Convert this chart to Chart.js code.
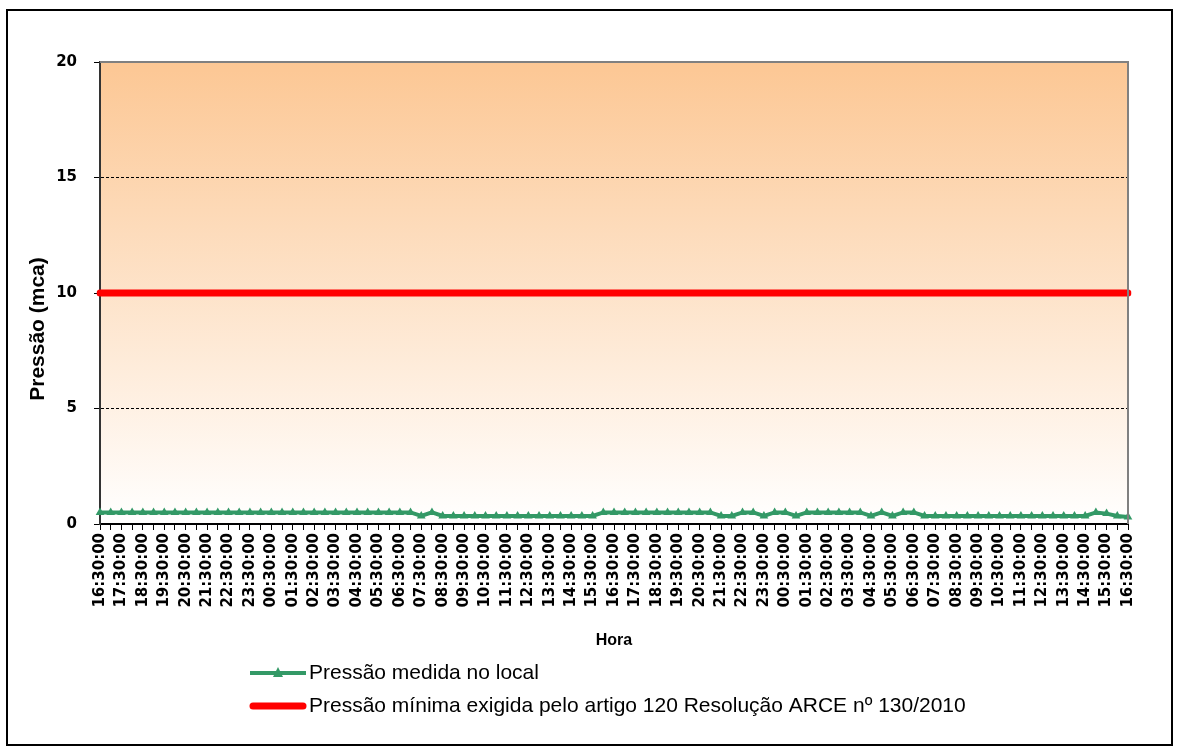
<!DOCTYPE html>
<html>
<head>
<meta charset="utf-8">
<script src="https://cdn.jsdelivr.net/npm/chart.js@4.4.0/dist/chart.umd.min.js"></script>
<style>
  html, body { margin: 0; padding: 0; background: #fff; }
  #wrap { width: 1181px; height: 753px; position: relative; }
</style>
</head>
<body>
<div id="wrap"><canvas id="chart" width="1181" height="753"></canvas></div>
<script>
// Horários (a cada 30 min)
const horas = [
  '16:30:00','17:00:00','17:30:00','18:00:00','18:30:00','19:00:00','19:30:00','20:00:00',
  '20:30:00','21:00:00','21:30:00','22:00:00','22:30:00','23:00:00','23:30:00','00:00:00',
  '00:30:00','01:00:00','01:30:00','02:00:00','02:30:00','03:00:00','03:30:00','04:00:00',
  '04:30:00','05:00:00','05:30:00','06:00:00','06:30:00','07:00:00','07:30:00','08:00:00',
  '08:30:00','09:00:00','09:30:00','10:00:00','10:30:00','11:00:00','11:30:00','12:00:00',
  '12:30:00','13:00:00','13:30:00','14:00:00','14:30:00','15:00:00','15:30:00','16:00:00',
  '16:30:00','17:00:00','17:30:00','18:00:00','18:30:00','19:00:00','19:30:00','20:00:00',
  '20:30:00','21:00:00','21:30:00','22:00:00','22:30:00','23:00:00','23:30:00','00:00:00',
  '00:30:00','01:00:00','01:30:00','02:00:00','02:30:00','03:00:00','03:30:00','04:00:00',
  '04:30:00','05:00:00','05:30:00','06:00:00','06:30:00','07:00:00','07:30:00','08:00:00',
  '08:30:00','09:00:00','09:30:00','10:00:00','10:30:00','11:00:00','11:30:00','12:00:00',
  '12:30:00','13:00:00','13:30:00','14:00:00','14:30:00','15:00:00','15:30:00','16:00:00',
  '16:30:00'
];

// Pressão medida no local (mca)
const pressaoMedida = [
  0.5, 0.5, 0.5, 0.5, 0.5, 0.5, 0.5, 0.5, 0.5, 0.5, 0.5, 0.5, 0.5, 0.5, 0.5, 0.5,
  0.5, 0.5, 0.5, 0.5, 0.5, 0.5, 0.5, 0.5, 0.5, 0.5, 0.5, 0.5, 0.5, 0.5, 0.35, 0.5,
  0.35, 0.35, 0.35, 0.35, 0.35, 0.35, 0.35, 0.35, 0.35, 0.35, 0.35, 0.35, 0.35, 0.35, 0.35, 0.5,
  0.5, 0.5, 0.5, 0.5, 0.5, 0.5, 0.5, 0.5, 0.5, 0.5, 0.35, 0.35, 0.5, 0.5, 0.35, 0.5,
  0.5, 0.35, 0.5, 0.5, 0.5, 0.5, 0.5, 0.5, 0.35, 0.5, 0.35, 0.5, 0.5, 0.35, 0.35, 0.35,
  0.35, 0.35, 0.35, 0.35, 0.35, 0.35, 0.35, 0.35, 0.35, 0.35, 0.35, 0.35, 0.35, 0.5, 0.45, 0.35,
  0.3
];

// Pressão mínima exigida (mca)
const pressaoMinima = horas.map(() => 10);

const yTicks = [0, 5, 10, 15, 20];
const gridValores = [5, 10, 15];

const tituloY = 'Pressão (mca)';
const nomeMedida = 'Pressão medida no local';
const nomeMinima = 'Pressão mínima exigida pelo artigo 120 Resolução ARCE nº 130/2010';

const VERDE = '#339966';
const VERMELHO = '#FF0000';

// Fundo em degradê da área de plotagem
const fundoPlugin = {
  id: 'fundo',
  beforeDatasetsDraw(chart) {
    const { ctx, chartArea: a } = chart;
    const g = ctx.createLinearGradient(0, a.top, 0, a.bottom);
    g.addColorStop(0, '#FCC794');
    g.addColorStop(1, '#FFFFFF');
    ctx.save();
    ctx.globalCompositeOperation = 'destination-over';
    ctx.fillStyle = g;
    ctx.fillRect(a.left, a.top, a.right - a.left, a.bottom - a.top);
    ctx.restore();
  }
};

// Bordas, moldura, título do eixo Y e legenda
const molduraPlugin = {
  id: 'moldura',
  afterDraw(chart) {
    const { ctx, chartArea: a } = chart;
    ctx.save();
    // topo e direita da área de plotagem
    ctx.strokeStyle = '#808080';
    ctx.lineWidth = 2;
    ctx.beginPath();
    ctx.moveTo(a.left, a.top);
    ctx.lineTo(a.right, a.top);
    ctx.lineTo(a.right, a.bottom);
    ctx.stroke();

    // moldura externa
    ctx.strokeStyle = '#000';
    ctx.lineWidth = 2;
    ctx.strokeRect(7, 10, 1165, 735);

    // título do eixo Y (Excel o deixa um pouco abaixo do centro)
    ctx.save();
    ctx.translate(38, 329);
    ctx.rotate(-Math.PI / 2);
    ctx.fillStyle = '#000';
    ctx.font = 'bold 21px "Liberation Sans", Arial, sans-serif';
    ctx.textAlign = 'center';
    ctx.textBaseline = 'middle';
    ctx.fillText(tituloY, 0, 0);
    ctx.restore();

    // legenda
    const x0 = 250, x1 = 306;
    const yA = 673, yB = 706;
    ctx.lineCap = 'butt';
    ctx.strokeStyle = VERDE;
    ctx.lineWidth = 4;
    ctx.beginPath();
    ctx.moveTo(x0, yA);
    ctx.lineTo(x1, yA);
    ctx.stroke();
    ctx.fillStyle = VERDE;
    ctx.beginPath();
    const cx = (x0 + x1) / 2;
    ctx.moveTo(cx, yA - 6);
    ctx.lineTo(cx + 5, yA + 4);
    ctx.lineTo(cx - 5, yA + 4);
    ctx.closePath();
    ctx.fill();

    ctx.lineCap = 'round';
    ctx.strokeStyle = VERMELHO;
    ctx.lineWidth = 7;
    ctx.beginPath();
    ctx.moveTo(x0 + 3, yB);
    ctx.lineTo(x1 - 3, yB);
    ctx.stroke();

    ctx.fillStyle = '#000';
    ctx.font = '21px "Liberation Sans", Arial, sans-serif';
    ctx.textBaseline = 'middle';
    ctx.textAlign = 'left';
    ctx.fillText(nomeMedida, x1 + 3, yA);
    ctx.fillText(nomeMinima, x1 + 3, yB);
    ctx.restore();
  }
};

new Chart(document.getElementById('chart'), {
  type: 'line',
  data: {
    labels: horas,
    datasets: [
      {
        label: nomeMinima,
        data: pressaoMinima,
        borderColor: VERMELHO,
        backgroundColor: VERMELHO,
        borderWidth: 7,
        borderCapStyle: 'round',
        pointRadius: 0,
        tension: 0,
        order: 2
      },
      {
        label: nomeMedida,
        data: pressaoMedida,
        borderColor: VERDE,
        backgroundColor: VERDE,
        borderWidth: 4,
        pointStyle: 'triangle',
        pointRadius: 5,
        pointBackgroundColor: VERDE,
        pointBorderColor: VERDE,
        pointBorderWidth: 0,
        tension: 0,
        order: 1
      }
    ]
  },
  options: {
    responsive: false,
    animation: false,
    devicePixelRatio: 1,
    layout: { padding: { left: 20, right: 53, top: 62, bottom: 99 } },
    plugins: {
      legend: { display: false },
      tooltip: { enabled: false }
    },
    scales: {
      x: {
        type: 'category',
        offset: false,
        afterFit: s => { s.height = 130; },
        grid: {
          drawOnChartArea: false,
          drawTicks: true,
          tickLength: 6,
          tickColor: '#000',
          tickWidth: 1
        },
        border: { color: '#000', width: 2 },
        ticks: {
          autoSkip: false,
          minRotation: 90,
          maxRotation: 90,
          padding: 3,
          color: '#000',
          font: { family: '"DejaVu Sans", sans-serif', size: 15, weight: 'bold' },
          callback: (v, i) => (i % 2 === 0 ? horas[i] : '')
        },
        title: {
          display: true,
          text: 'Hora',
          color: '#000',
          font: { family: '"Liberation Sans", Arial, sans-serif', size: 16, weight: 'bold' }
        }
      },
      y: {
        min: 0,
        max: 20,
        afterFit: s => { s.width = 80; },
        afterBuildTicks: s => { s.ticks = yTicks.map(v => ({ value: v })); },
        grid: {
          color: c => (gridValores.includes(c.tick.value) ? '#000' : 'rgba(0,0,0,0)'),
          lineWidth: 1,
          tickLength: 6,
          tickColor: '#000',
          tickBorderDash: []
        },
        border: { color: '#333', width: 2, dash: [3, 2] },
        ticks: {
          padding: 17,
          color: '#000',
          font: { family: '"DejaVu Sans", sans-serif', size: 15, weight: 'bold' }
        },
        title: { display: false }
      }
    }
  },
  plugins: [fundoPlugin, molduraPlugin]
});
</script>
</body>
</html>
